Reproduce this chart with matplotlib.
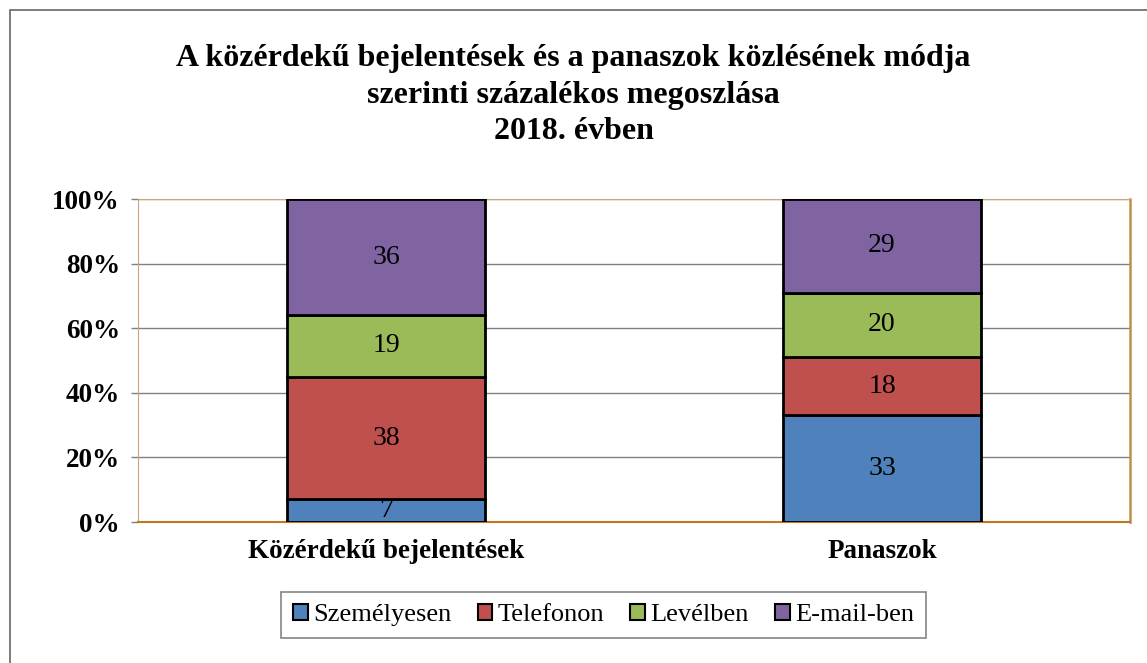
import matplotlib
matplotlib.use("Agg")
import matplotlib.pyplot as plt
from matplotlib.patches import Rectangle
import numpy as np

categories = ["Közérdekű bejelentések", "Panaszok"]
series_names = ["Személyesen", "Telefonon", "Levélben", "E-mail-ben"]
szemelyesen = [7, 33]
telefonon = [38, 18]
levelben = [19, 20]
email = [36, 29]
colors = ["#4F81BD", "#C0504D", "#9BBB59", "#8064A2"]
title = "A közérdekű bejelentések és a panaszok közlésének módja\nszerinti százalékos megoszlása\n2018. évben"

plt.rcParams['font.family'] = ['Liberation Serif', 'DejaVu Serif']

fig = plt.figure(figsize=(11.47, 6.63), dpi=100)
fig.patches.append(Rectangle((10/1147, -0.1), 1.2, 1 - 10/663 + 0.1, transform=fig.transFigure,
                             fill=False, edgecolor="#666666", linewidth=1.2))

ax = fig.add_axes([138/1147, 1 - 522/663, (1130-138)/1147, (522-199)/663])

x = np.arange(len(categories))
bottom = np.zeros(len(categories))
series = [szemelyesen, telefonon, levelben, email]
for name, vals, c in zip(series_names, series, colors):
    vals = np.array(vals, dtype=float)
    ax.bar(x, vals, 0.4, bottom=bottom, color=c, edgecolor="black", linewidth=2, label=name, zorder=3)
    for xi, b, v in zip(x, bottom, vals):
        ax.text(xi, b + v/2, f"{int(v)}", ha="center", va="center", fontsize=20, zorder=4)
    bottom += vals

ax.set_xlim(-0.5, 1.5)
ax.set_ylim(0, 100)
ax.set_yticks(np.arange(0, 101, 20))
ax.set_yticklabels([f"{v}%" for v in range(0, 101, 20)], fontsize=19.5, fontweight="bold")
ax.set_xticks(x)
ax.set_xticklabels(categories, fontsize=19.5, fontweight="bold")
ax.tick_params(axis="x", length=0, pad=12)
ax.tick_params(axis="y", length=5, width=1, color="#808080", pad=8)
ax.yaxis.grid(True, color="#808080", linewidth=1, zorder=0)
for s in ["left", "top"]:
    ax.spines[s].set_color("#C8A878")
ax.spines["right"].set_color("#C0904A")
ax.spines["right"].set_linewidth(1.8)
ax.spines["bottom"].set_color("#C07820")
ax.spines["bottom"].set_linewidth(1.5)

fig.text(0.5, 1 - 95/663, title, ha="center", va="center", fontsize=23, fontweight="bold", linespacing=1.33)

leg = fig.legend(loc="center", bbox_to_anchor=(603.5/1147, 1 - 615/663), ncol=4, fontsize=19,
                 frameon=True, fancybox=False, edgecolor="#666666", handlelength=0.55, handleheight=0.55,
                 handletextpad=0.2, columnspacing=1.0, borderpad=0.45)
leg.get_frame().set_linewidth(1.2)
for h in leg.legend_handles:
    h.set_linewidth(1.5)

fig.savefig("out.png", dpi=100)
